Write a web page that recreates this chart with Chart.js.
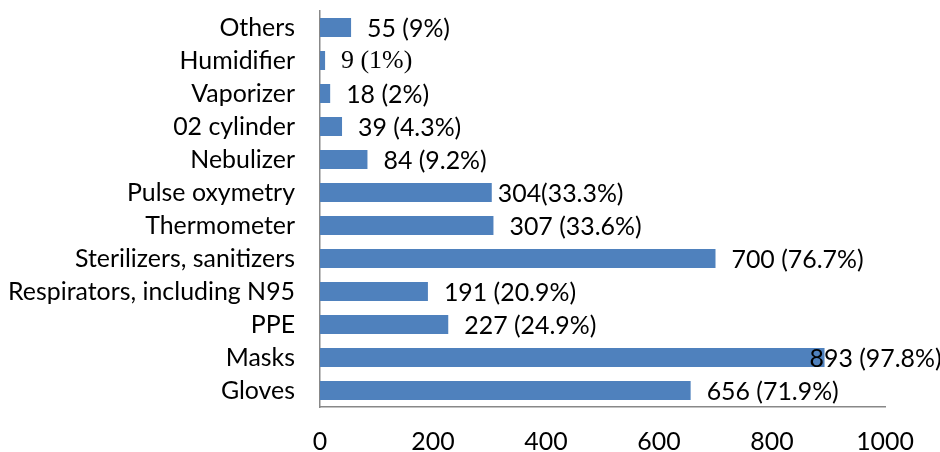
<!DOCTYPE html>
<html>
<head>
<meta charset="utf-8">
<script src="https://cdn.jsdelivr.net/npm/chart.js@4.4.1/dist/chart.umd.min.js"></script>
<style>
  html, body { margin: 0; padding: 0; background: #fff; }
  #wrap { width: 940px; height: 452px; }
</style>
</head>
<body>
<div id="wrap"><canvas id="c" width="940" height="452"></canvas></div>
<script>
const categories = ["Others", "Humidifier", "Vaporizer", "02 cylinder", "Nebulizer", "Pulse oxymetry", "Thermometer", "Sterilizers, sanitizers", "Respirators, including N95", "PPE", "Masks", "Gloves"];
const counts = [55, 9, 18, 39, 84, 304, 307, 700, 191, 227, 893, 656];
const valueLabels = ["55 (9%)", "9 (1%)", "18 (2%)", "39 (4.3%)", "84 (9.2%)", "304(33.3%)", "307 (33.6%)", "700 (76.7%)", "191 (20.9%)", "227 (24.9%)", "893 (97.8%)", "656 (71.9%)"];
const xTicks = [0, 200, 400, 600, 800, 1000];

// style: per-label nudges (px) and fonts
const labelNudge = { "Pulse oxymetry": -10, "Masks": -31 };
const serifLabels = { "Humidifier": true };

// fit sans font size so the longest category label matches the reference width
const mc = document.createElement('canvas').getContext('2d');
mc.font = '100px Lato';
const fs = Math.round(100 * 220 / mc.measureText('Sterilizers, sanitizers').width * 10) / 10;
const SANS = 'Lato';

const labelPlugin = {
  id: 'valueLabels',
  afterDatasetsDraw(chart) {
    const ctx = chart.ctx;
    const meta = chart.getDatasetMeta(0);
    ctx.save();
    ctx.fillStyle = '#000';
    ctx.textBaseline = 'middle';
    ctx.textAlign = 'left';
    meta.data.forEach((bar, i) => {
      const cat = categories[i];
      ctx.font = serifLabels[cat] ? (fs + 1) + 'px "Liberation Serif"' : fs + 'px ' + SANS;
      const dx = 16 + (labelNudge[cat] || 0);
      ctx.fillText(valueLabels[i], bar.x + dx, bar.y + 1);
    });
    ctx.restore();
  }
};

new Chart(document.getElementById('c'), {
  type: 'bar',
  data: {
    labels: categories,
    datasets: [{
      data: counts,
      backgroundColor: '#4F81BD',
      borderWidth: 0,
      barPercentage: 0.9,
      categoryPercentage: 0.64
    }]
  },
  options: {
    indexAxis: 'y',
    responsive: false,
    animation: false,
    devicePixelRatio: 1,
    layout: { padding: { top: 11, right: 55, bottom: 0, left: 0 } },
    plugins: { legend: { display: false }, tooltip: { enabled: false } },
    scales: {
      x: {
        min: 0, max: 1000,
        afterBuildTicks(scale) { scale.ticks = xTicks.map(v => ({ value: v })); },
        afterFit(scale) { scale.height = 45; scale.paddingLeft = 0; scale.paddingRight = 0; },
        grid: { display: false, drawTicks: false },
        border: { display: true, color: '#888', width: 1.5 },
        ticks: { color: '#000', font: { family: SANS, size: fs }, padding: 20, maxRotation: 0,
                 callback: (v) => String(v) }
      },
      y: {
        afterFit(scale) { scale.width = 320; scale.paddingTop = 0; scale.paddingBottom = 0; },
        grid: { display: false, drawTicks: false },
        border: { display: true, color: '#888', width: 1.5 },
        ticks: { color: '#000', font: { family: SANS, size: fs }, padding: 25, autoSkip: false }
      }
    }
  },
  plugins: [labelPlugin]
});
</script>
</body>
</html>
